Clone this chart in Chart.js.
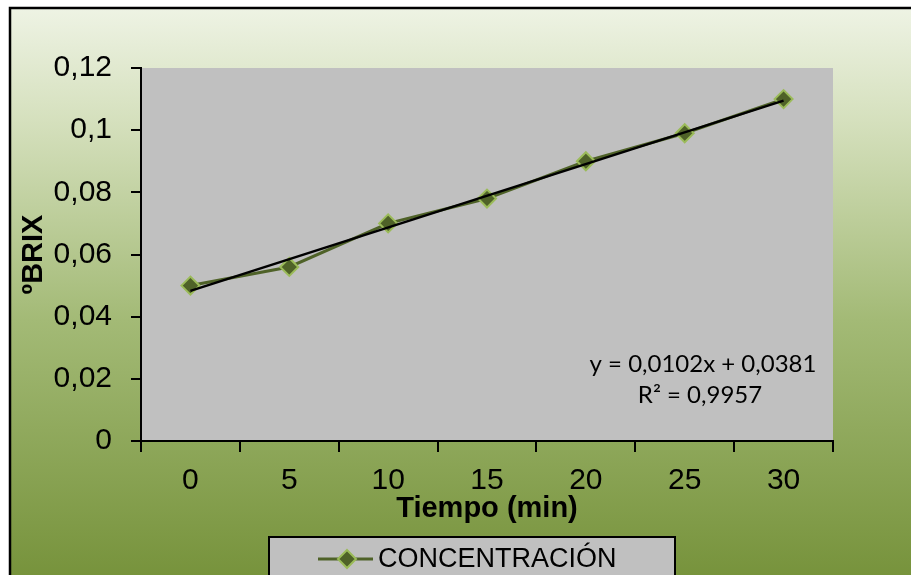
<!DOCTYPE html>
<html>
<head>
<meta charset="utf-8">
<script src="https://cdn.jsdelivr.net/npm/chart.js@4/dist/chart.umd.min.js"></script>
<style>
    body { margin: 0; background: #ffffff; }
    #wrap { width: 911px; height: 575px; }
</style>
</head>
<body>
<div id="wrap"><canvas id="brixChart" width="911" height="575"></canvas></div>
<script>
// ===== DATA =====
const times = ['0', '5', '10', '15', '20', '25', '30'];
const brix = [0.05, 0.056, 0.07, 0.078, 0.09, 0.099, 0.11];
const trendEnds = [0.0483, 0.1095];
const eqLines = ['y = 0,0102x + 0,0381', 'R² = 0,9957'];
const seriesName = 'CONCENTRACIÓN';

const olive = '#4f6228';
const lightGreen = '#9bbb59';

// ===== BACKGROUND / FRAME / EQUATION / LEGEND =====
const decorPlugin = {
    id: 'decor',
    beforeDraw(chart) {
        const ctx = chart.ctx;
        const area = chart.chartArea;
        ctx.save();
        ctx.fillStyle = '#ffffff';
        ctx.fillRect(0, 0, chart.width, chart.height);
        const grad = ctx.createLinearGradient(0, 8, 0, chart.height);
        grad.addColorStop(0, '#eef3e4');
        grad.addColorStop(0.2, '#d5e0bd');
        grad.addColorStop(0.55, '#a3ba76');
        grad.addColorStop(1, '#77933c');
        ctx.fillStyle = grad;
        ctx.fillRect(10, 8, chart.width, chart.height);
        ctx.strokeStyle = '#000000';
        ctx.lineWidth = 2.5;
        ctx.strokeRect(10, 8, chart.width + 20, chart.height + 20);
        ctx.fillStyle = '#c0c0c0';
        ctx.fillRect(area.left, area.top, area.right - area.left, area.bottom - area.top);
        ctx.restore();
    },
    afterDraw(chart) {
        const ctx = chart.ctx;
        ctx.save();
        // trend equation
        ctx.fillStyle = '#000000';
        ctx.font = '24px Lato, "Open Sans", sans-serif';
        ctx.textAlign = 'center';
        ctx.textBaseline = 'alphabetic';
        ctx.fillText(eqLines[0], 703, 372);
        ctx.fillText(eqLines[1], 700, 403);

        // legend
        ctx.fillStyle = '#c0c0c0';
        ctx.fillRect(269, 537, 406, 60);
        ctx.strokeStyle = '#000000';
        ctx.lineWidth = 2;
        ctx.strokeRect(269, 537, 406, 60);
        ctx.strokeStyle = olive;
        ctx.lineWidth = 3;
        ctx.beginPath();
        ctx.moveTo(318, 559);
        ctx.lineTo(373, 559);
        ctx.stroke();
        ctx.beginPath();
        ctx.moveTo(347, 550);
        ctx.lineTo(356, 559);
        ctx.lineTo(347, 568);
        ctx.lineTo(338, 559);
        ctx.closePath();
        ctx.fillStyle = olive;
        ctx.fill();
        ctx.strokeStyle = lightGreen;
        ctx.lineWidth = 2;
        ctx.stroke();
        ctx.fillStyle = '#000000';
        ctx.font = '27px "Liberation Sans", Arial, sans-serif';
        ctx.textAlign = 'left';
        ctx.fillText(seriesName, 378, 567);
        ctx.restore();
    }
};

// ===== CHART =====
const ctx = document.getElementById('brixChart').getContext('2d');
const chart = new Chart(ctx, {
    type: 'line',
    data: {
        labels: times,
        datasets: [
            {
                label: 'Tendencia',
                data: [
                    { x: times[0], y: trendEnds[0] },
                    { x: times[times.length - 1], y: trendEnds[1] }
                ],
                borderColor: '#000000',
                borderWidth: 2.5,
                pointRadius: 0,
                tension: 0,
                order: 0
            },
            {
                label: seriesName,
                data: brix,
                borderColor: olive,
                borderWidth: 3,
                tension: 0,
                pointStyle: 'rectRot',
                pointRadius: 9,
                pointBackgroundColor: olive,
                pointBorderColor: lightGreen,
                pointBorderWidth: 2,
                order: 1
            }
        ]
    },
    options: {
        responsive: false,
        animation: false,
        layout: { padding: { left: 0, top: 68, right: 78, bottom: 0 } },
        plugins: {
            legend: { display: false },
            tooltip: { enabled: false }
        },
        scales: {
            x: {
                type: 'category',
                offset: true,
                afterFit: (scale) => { scale.height = 134; },
                title: {
                    display: true,
                    text: 'Tiempo (min)',
                    color: '#000000',
                    font: { family: '"Liberation Sans", Arial, sans-serif', size: 29, weight: 'bold' },
                    padding: { top: 0, bottom: 49 }
                },
                ticks: {
                    color: '#000000',
                    font: { family: '"Liberation Sans", Arial, sans-serif', size: 30 },
                    padding: 11,
                    maxRotation: 0
                },
                grid: {
                    offset: true,
                    drawOnChartArea: false,
                    drawTicks: true,
                    tickLength: 11,
                    color: '#000000',
                    lineWidth: 2
                },
                border: { display: true, color: '#000000', width: 2 }
            },
            y: {
                min: 0,
                max: 0.12,
                afterFit: (scale) => { scale.width = 141; },
                title: {
                    display: true,
                    text: 'ºBRIX',
                    color: '#000000',
                    font: { family: '"Liberation Sans", Arial, sans-serif', size: 29, weight: 'bold' },
                    padding: { top: 17, bottom: 0 }
                },
                ticks: {
                    stepSize: 0.02,
                    color: '#000000',
                    font: { family: '"Liberation Sans", Arial, sans-serif', size: 30 },
                    padding: 19,
                    callback: (v) => String(parseFloat(v.toFixed(2))).replace('.', ',')
                },
                grid: {
                    drawOnChartArea: false,
                    drawTicks: true,
                    tickLength: 10,
                    color: '#000000',
                    lineWidth: 2
                },
                border: { display: true, color: '#000000', width: 2 }
            }
        }
    },
    plugins: [decorPlugin]
});
</script>
</body>
</html>
